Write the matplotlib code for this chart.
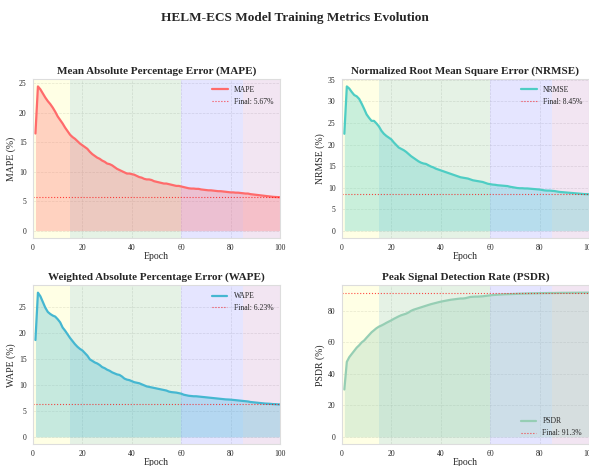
import numpy as np
import matplotlib
matplotlib.use('Agg')
import matplotlib.pyplot as plt
import seaborn as sns

sns.set_style('whitegrid')
plt.rcParams['font.family'] = ['Liberation Serif', 'DejaVu Serif']

epochs = list(range(1, 101))

mape = [16.5, 24.5, 24.0, 23.3, 22.6, 22.0, 21.5, 20.9, 20.2, 19.4,
        18.8, 18.2, 17.5, 16.9, 16.3, 15.9, 15.6, 15.2, 14.8, 14.5,
        14.2, 13.9, 13.4, 13.0, 12.7, 12.4, 12.2, 11.9, 11.7, 11.4,
        11.3, 11.1, 10.8, 10.5, 10.3, 10.1, 9.9, 9.7, 9.7, 9.6,
        9.5, 9.3, 9.1, 9.0, 8.8, 8.7, 8.7, 8.6, 8.4, 8.3,
        8.2, 8.1, 8.0, 8.0, 7.9, 7.8, 7.7, 7.6, 7.6, 7.5,
        7.4, 7.3, 7.2, 7.15, 7.15, 7.1, 7.1, 7.0, 6.95, 6.9,
        6.85, 6.85, 6.8, 6.75, 6.7, 6.7, 6.65, 6.6, 6.55, 6.5,
        6.5, 6.45, 6.45, 6.4, 6.35, 6.3, 6.3, 6.2, 6.15, 6.1,
        6.05, 6.0, 5.95, 5.9, 5.85, 5.8, 5.75, 5.72, 5.7, 5.67]

nrmse = [22.5, 33.5, 33.0, 32.2, 31.5, 31.2, 30.6, 29.5, 28.3, 27.0,
         26.2, 25.5, 25.5, 24.9, 24.2, 23.2, 22.5, 22.0, 21.6, 21.2,
         20.5, 19.9, 19.3, 19.0, 18.7, 18.3, 17.8, 17.3, 16.9, 16.5,
         16.1, 15.8, 15.6, 15.5, 15.2, 14.9, 14.7, 14.4, 14.2, 14.0,
         13.8, 13.6, 13.4, 13.2, 13.0, 12.8, 12.6, 12.4, 12.3, 12.2,
         12.1, 11.9, 11.7, 11.6, 11.5, 11.4, 11.3, 11.1, 10.9, 10.8,
         10.7, 10.65, 10.55, 10.5, 10.45, 10.4, 10.35, 10.2, 10.1, 10.0,
         9.9, 9.85, 9.85, 9.8, 9.8, 9.75, 9.7, 9.65, 9.6, 9.55,
         9.45, 9.35, 9.3, 9.3, 9.25, 9.2, 9.1, 9.0, 8.95, 8.9,
         8.85, 8.8, 8.75, 8.7, 8.65, 8.6, 8.55, 8.5, 8.48, 8.45]

wape = [18.6, 27.7, 27.0, 25.9, 24.8, 24.0, 23.6, 23.3, 23.1, 22.6,
        22.0, 21.0, 20.4, 19.7, 19.0, 18.4, 17.8, 17.3, 16.9, 16.6,
        16.1, 15.6, 14.9, 14.6, 14.3, 14.1, 13.8, 13.4, 13.2, 12.9,
        12.7, 12.4, 12.2, 12.0, 11.9, 11.6, 11.2, 11.0, 10.9, 10.7,
        10.5, 10.4, 10.3, 10.1, 9.9, 9.7, 9.6, 9.5, 9.4, 9.3,
        9.2, 9.1, 9.0, 8.9, 8.7, 8.6, 8.55, 8.5, 8.4, 8.3,
        8.1, 8.0, 7.9, 7.85, 7.8, 7.8, 7.75, 7.7, 7.65, 7.6,
        7.55, 7.5, 7.45, 7.4, 7.35, 7.3, 7.25, 7.2, 7.18, 7.15,
        7.1, 7.05, 7.0, 6.95, 6.9, 6.85, 6.8, 6.7, 6.65, 6.6,
        6.55, 6.5, 6.45, 6.4, 6.38, 6.35, 6.3, 6.28, 6.25, 6.23]

psdr = [30.0, 47.5, 50.5, 52.5, 54.5, 56.5, 58.0, 59.8, 61.0, 62.8,
        64.5, 66.2, 67.5, 68.8, 69.8, 70.5, 71.3, 72.2, 73.0, 73.8,
        74.7, 75.5, 76.3, 77.0, 77.5, 78.0, 78.8, 79.8, 80.5, 81.0,
        81.5, 82.0, 82.5, 83.0, 83.5, 84.0, 84.4, 84.8, 85.2, 85.6,
        85.9, 86.2, 86.5, 86.8, 87.0, 87.2, 87.4, 87.6, 87.6, 87.8,
        88.2, 88.6, 88.7, 88.8, 88.8, 88.9, 89.0, 89.2, 89.4, 89.6,
        89.8, 89.9, 90.0, 90.1, 90.2, 90.3, 90.35, 90.4, 90.45, 90.5,
        90.6, 90.65, 90.7, 90.75, 90.8, 90.85, 90.9, 90.9, 90.95, 91.0,
        91.0, 91.05, 91.05, 91.1, 91.1, 91.1, 91.15, 91.15, 91.2, 91.2,
        91.2, 91.22, 91.24, 91.25, 91.26, 91.27, 91.28, 91.29, 91.3, 91.3]

titles = ['Mean Absolute Percentage Error (MAPE)',
          'Normalized Root Mean Square Error (NRMSE)',
          'Weighted Absolute Percentage Error (WAPE)',
          'Peak Signal Detection Rate (PSDR)']
names = ['MAPE', 'NRMSE', 'WAPE', 'PSDR']
finals = ['5.67%', '8.45%', '6.23%', '91.3%']
colors = ['#FF6B6B', '#4ECDC4', '#45B7D1', '#96CEB4']
series = [mape, nrmse, wape, psdr]

# training phases (epoch ranges)
phases = [(0, 15, 'yellow'), (15, 60, 'green'), (60, 85, 'blue'), (85, 100, 'purple')]

fig, axes = plt.subplots(2, 2, figsize=(5.89, 4.66), dpi=100)
fig.subplots_adjust(left=0.056, right=1.0, top=0.83, bottom=0.047, wspace=0.25, hspace=0.3)
fig.suptitle('HELM-ECS Model Training Metrics Evolution', fontsize=9.5, fontweight='bold', y=0.975)

for i, ax in enumerate(axes.flat):
    vals = series[i]
    for start, end, c in phases:
        ax.axvspan(start, end, color=c, alpha=0.1, lw=0)
    ax.plot(epochs, vals, color=colors[i], lw=1.6, label=names[i])
    ax.fill_between(epochs, vals, color=colors[i], alpha=0.3, lw=0)
    ax.axhline(vals[-1], color='red', ls=':', lw=0.8, alpha=0.7, label='Final: ' + finals[i])
    ax.set_xlim(0, 100)
    ax.set_title(titles[i], fontsize=8, fontweight='bold', pad=4)
    ax.set_xlabel('Epoch', fontsize=7, labelpad=0)
    ax.set_ylabel(names[i] + ' (%)', fontsize=7, labelpad=2)
    ax.tick_params(labelsize=5.5, pad=1)
    ax.grid(True, ls='--', alpha=0.5, lw=0.5)
    for s in ax.spines.values():
        s.set_color('#dddddd')
        s.set_linewidth(0.8)
    loc = 'lower right' if names[i] == 'PSDR' else 'upper right'
    ax.legend(loc=loc, fontsize=5.5, frameon=False)

fig.savefig('out.png', dpi=100)
